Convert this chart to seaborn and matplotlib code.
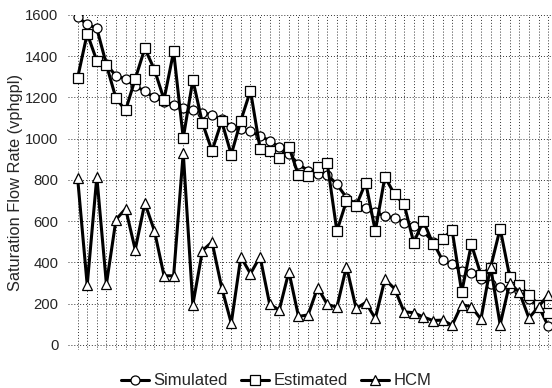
import matplotlib
matplotlib.use("Agg")
import matplotlib.pyplot as plt
import seaborn as sns
import numpy as np
import pandas as pd

simulated = [1590, 1555, 1535, 1360, 1305, 1290, 1255, 1230, 1200, 1180,
             1165, 1150, 1138, 1127, 1115, 1095, 1058, 1045, 1035, 1013,
             990, 958, 927, 876, 845, 830, 825, 779, 714, 682,
             663, 642, 625, 615, 593, 577, 552, 500, 410, 390,
             360, 350, 320, 295, 282, 275, 260, 222, 188, 92]
estimated = [1295, 1510, 1378, 1358, 1195, 1138, 1290, 1438, 1335, 1190,
             1423, 1003, 1285, 1076, 941, 1085, 923, 1088, 1233, 952,
             940, 908, 962, 822, 820, 865, 880, 552, 698, 674,
             787, 552, 815, 730, 682, 496, 601, 491, 515, 556,
             256, 488, 340, 375, 564, 330, 289, 243, 195, 156]
hcm = [810, 290, 815, 295, 608, 660, 462, 688, 553, 335,
       335, 932, 195, 457, 499, 278, 105, 427, 345, 428,
       197, 169, 355, 138, 145, 278, 196, 183, 380, 177,
       205, 128, 318, 273, 160, 156, 135, 118, 120, 95,
       195, 185, 125, 380, 98, 300, 255, 130, 185, 242]
series_names = ["Simulated", "Estimated", "HCM"]
y_ticks = [0, 200, 400, 600, 800, 1000, 1200, 1400, 1600]

idx = np.arange(len(simulated))
df = pd.DataFrame({"idx": idx, "Simulated": simulated,
                   "Estimated": estimated, "HCM": hcm})

sns.set_theme(style="white")
plt.rcParams["font.family"] = ["Liberation Sans", "DejaVu Sans"]

fig = plt.figure(figsize=(5.52, 3.88), dpi=100)
ax = fig.add_axes([68 / 552, 1 - 350 / 388, 1 - 68 / 552, (350 - 15) / 388])

markers = {"Simulated": "o", "Estimated": "s", "HCM": "^"}
msizes = {"Simulated": 6.5, "Estimated": 7.5, "HCM": 7.5}
for name in series_names:
    sns.lineplot(data=df, x="idx", y=name, ax=ax, color="black",
                 linewidth=2.2, marker=markers[name], markersize=msizes[name],
                 markerfacecolor="white", markeredgecolor="black",
                 markeredgewidth=0.9, label=name, zorder=3)

ax.set_xlim(-1.0, 49.4)
ax.set_ylim(-25, 1600)
ax.set_yticks(y_ticks)
ax.set_yticklabels([str(v) for v in y_ticks], fontsize=10.7)
ax.set_xticks(idx)
ax.set_xticklabels([])
ax.tick_params(axis="x", length=0)
ax.tick_params(axis="y", length=0, pad=7)
ax.grid(True, which="major", axis="both", linestyle=(0, (1, 2)),
        color="#333333", linewidth=0.7, zorder=0)
for s in ax.spines.values():
    s.set_visible(False)
ax.set_xlabel("")
ax.set_ylabel("Saturation Flow Rate (vphgpl)", fontsize=11.8)
ax.yaxis.set_label_coords(-0.092, 0.5)

leg = ax.legend(loc="upper center", bbox_to_anchor=(0.43, -0.025), ncol=3,
                frameon=False, fontsize=12, handlelength=1.7,
                columnspacing=0.8, handletextpad=0.25)
fig.savefig("out.png", dpi=100)
